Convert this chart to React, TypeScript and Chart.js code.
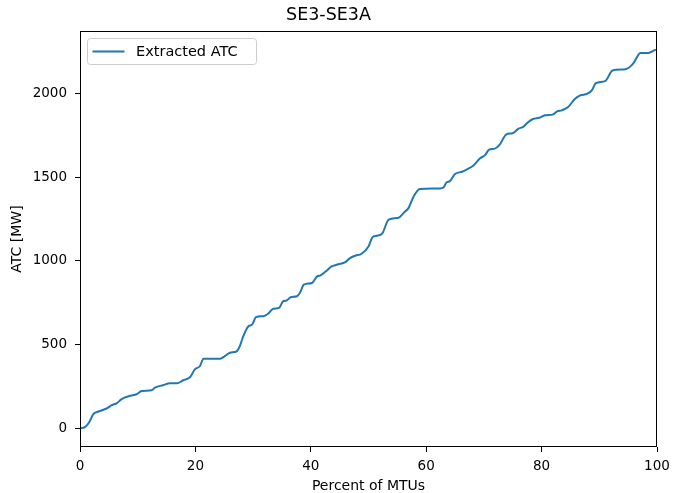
import React, { useEffect, useRef } from "react";
import { Chart, registerables } from "chart.js";

Chart.register(...registerables);

const chartTitle = "SE3-SE3A";
const seriesLabel = "Extracted ATC";
const xAxisLabel = "Percent of MTUs";
const yAxisLabel = "ATC [MW]";

const percentOfMtus = [
  0, 0.8, 1.6, 2.3, 3.2, 4.6, 5.5, 6.4, 7.2, 8.7, 9.8, 10.7, 12.4, 13, 14.4, 15.6, 16.8, 17.9, 19.1,
  19.9, 20.8, 21.4, 24.3, 25.1, 26, 27.2, 27.7, 28.3, 29.2, 29.8, 30.5, 31.8, 32.6, 33.4, 34.5, 35.2,
  35.8, 36.5, 37.6, 38.1, 38.8, 40.2, 41.1, 41.7, 42.8, 43.6, 44.5, 45.9, 46.8, 47.7, 48.8, 50, 50.7,
  51.4, 52.4, 53.5, 55.2, 56.2, 56.9, 57.8, 58.9, 62.4, 63.1, 63.5, 64.1, 65, 66.2, 67, 68.2, 69.3,
  70.2, 70.9, 71.9, 72.7, 73.9, 75, 76, 76.8, 77.6, 78.5, 79.6, 80.6, 82, 82.7, 83.5, 84.6, 85.8, 86.7,
  87.9, 88.7, 89.4, 91, 92.3, 94.5, 95.9, 96.8, 97.1, 98.5, 99.7, 100,
];

const atcValues = [
  0, 5, 35, 83, 99, 117, 137, 149, 173, 193, 202, 222, 226, 242, 256, 268, 268, 286, 305,
  351, 371, 415, 415, 430, 450, 460, 490, 549, 609, 617, 663, 669, 683, 712, 718, 758,
  762, 782, 788, 807, 857, 867, 907, 913, 942, 966, 976, 990, 1016, 1030, 1042, 1085, 1141,
  1149, 1164, 1246, 1257, 1290, 1313, 1383, 1429, 1432, 1442, 1468, 1476, 1518, 1532, 1545, 1569, 1611,
  1631, 1664, 1670, 1692, 1755, 1762, 1789, 1800, 1826, 1847, 1855, 1869, 1875, 1893, 1899, 1919, 1968, 1988,
  1998, 2018, 2061, 2073, 2137, 2145, 2180, 2232, 2242, 2242, 2260, 2262,
];

const xTickValues = [0, 20, 40, 60, 80, 100];
const yTickValues = [0, 500, 1000, 1500, 2000];

const FONT = "'DejaVu Sans', sans-serif";
const LINE_COLOR = "#1f77b4";

const framePlugin = {
  id: "frameAndLegend",
  afterDraw(chart: any) {
    const { ctx, chartArea } = chart;
    ctx.save();
    ctx.strokeStyle = "#000";
    ctx.lineWidth = 1;
    ctx.strokeRect(
      Math.round(chartArea.left) + 0.5,
      Math.round(chartArea.top) + 0.5,
      Math.round(chartArea.right - chartArea.left) - 1,
      Math.round(chartArea.bottom - chartArea.top) - 1
    );
    const bx = chartArea.left + 7.5;
    const by = chartArea.top + 7.5;
    const bw = 169;
    const bh = 26;
    const r = 3;
    ctx.beginPath();
    ctx.moveTo(bx + r, by);
    ctx.lineTo(bx + bw - r, by);
    ctx.quadraticCurveTo(bx + bw, by, bx + bw, by + r);
    ctx.lineTo(bx + bw, by + bh - r);
    ctx.quadraticCurveTo(bx + bw, by + bh, bx + bw - r, by + bh);
    ctx.lineTo(bx + r, by + bh);
    ctx.quadraticCurveTo(bx, by + bh, bx, by + bh - r);
    ctx.lineTo(bx, by + r);
    ctx.quadraticCurveTo(bx, by, bx + r, by);
    ctx.closePath();
    ctx.fillStyle = "rgba(255,255,255,0.8)";
    ctx.fill();
    ctx.strokeStyle = "#cccccc";
    ctx.stroke();
    const ly = by + bh / 2;
    ctx.beginPath();
    ctx.moveTo(bx + 5, ly);
    ctx.lineTo(bx + 37, ly);
    ctx.strokeStyle = LINE_COLOR;
    ctx.lineWidth = 2;
    ctx.stroke();
    ctx.fillStyle = "#000";
    ctx.font = `14.5px ${FONT}`;
    ctx.textBaseline = "middle";
    ctx.textAlign = "left";
    ctx.fillText(seriesLabel, bx + 48.5, ly + 0.5);
    ctx.restore();
  },
};

export default function App() {
  const canvasRef = useRef<HTMLCanvasElement | null>(null);

  useEffect(() => {
    const canvas = canvasRef.current;
    if (!canvas) return;
    const points = percentOfMtus.map((x, i) => ({ x, y: atcValues[i] }));
    const tickFont = { family: FONT, size: 13.5 };
    const labelFont = { family: FONT, size: 14 };
    const chart = new Chart(canvas, {
      type: "line",
      data: {
        datasets: [
          {
            label: seriesLabel,
            data: points,
            borderColor: LINE_COLOR,
            backgroundColor: LINE_COLOR,
            borderWidth: 2,
            pointRadius: 0,
            fill: false,
            cubicInterpolationMode: "monotone",
          } as any,
        ],
      },
      options: {
        responsive: false,
        animation: false,
        layout: { padding: { left: 0, right: 17, top: 0, bottom: 0 } },
        plugins: {
          legend: { display: false },
          tooltip: { enabled: false },
          title: {
            display: true,
            text: chartTitle,
            color: "#000",
            font: { family: FONT, size: 17.5, weight: "normal" as any },
            padding: { top: 5, bottom: 5 },
          },
        },
        scales: {
          x: {
            type: "linear",
            min: 0,
            max: 100,
            afterBuildTicks: (s: any) => {
              s.ticks = xTickValues.map((v) => ({ value: v }));
            },
            afterFit: (s: any) => {
              s.height = 46;
              s.paddingLeft = 0;
              s.paddingRight = 0;
            },
            ticks: {
              color: "#000",
              font: tickFont,
              padding: 6,
              maxRotation: 0,
              autoSkip: false,
              callback: (v: any) => String(v),
            },
            grid: { drawOnChartArea: false, drawTicks: true, tickLength: 5, tickColor: "#000" },
            border: { display: false },
            title: { display: true, text: xAxisLabel, color: "#000", font: labelFont, padding: { top: 0, bottom: -1.5 } },
          },
          y: {
            type: "linear",
            min: -113,
            max: 2373,
            afterBuildTicks: (s: any) => {
              s.ticks = yTickValues.map((v) => ({ value: v }));
            },
            afterFit: (s: any) => {
              s.width = 80;
              s.paddingTop = 0;
              s.paddingBottom = 0;
            },
            ticks: { color: "#000", font: tickFont, padding: 8, callback: (v: any) => String(v) },
            grid: { drawOnChartArea: false, drawTicks: true, tickLength: 5, tickColor: "#000" },
            border: { display: false },
            title: { display: true, text: yAxisLabel, color: "#000", font: labelFont, padding: { top: 9, bottom: 0 } },
          },
        },
      },
      plugins: [framePlugin],
    });
    return () => chart.destroy();
  }, []);

  return (
    <div style={{ position: "absolute", left: 0, top: 0, width: 674, height: 493, background: "#fff" }}>
      <canvas ref={canvasRef} width={674} height={493} style={{ display: "block", width: 674, height: 493 }} />
    </div>
  );
}
